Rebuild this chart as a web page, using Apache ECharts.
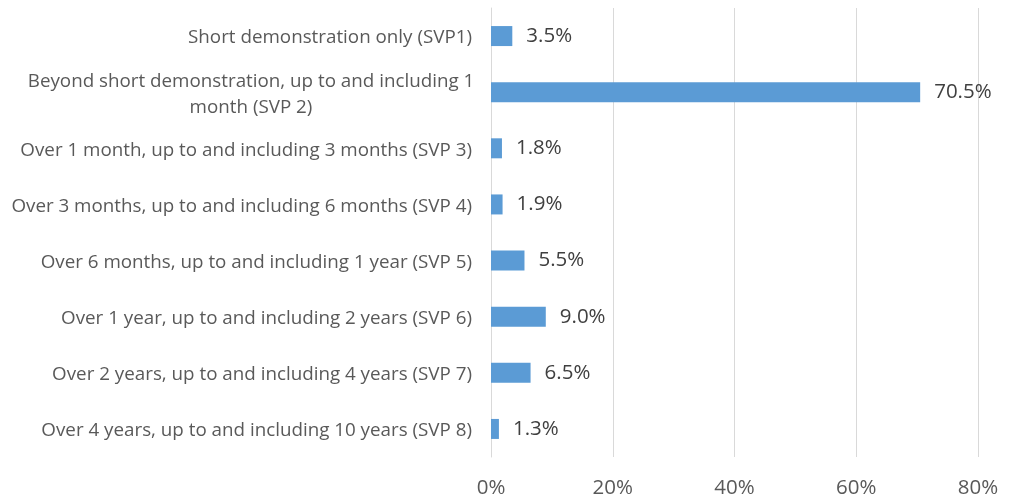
<!DOCTYPE html>
<html>
<head>
<meta charset="utf-8">
<script src="https://cdn.jsdelivr.net/npm/echarts@6/dist/echarts.min.js"></script>
<style>
  html, body { margin: 0; padding: 0; background: #fff; }
  #chart { width: 1015px; height: 499px; }
</style>
</head>
<body>
<div id="chart"></div>
<script>
// categories top to bottom, as in the picture
const categories = [
  'Short demonstration only (SVP1)',
  'Beyond short demonstration, up to and including 1\nmonth (SVP 2)',
  'Over 1 month, up to and including 3 months (SVP 3)',
  'Over 3 months, up to and including 6 months (SVP 4)',
  'Over 6 months, up to and including 1 year (SVP 5)',
  'Over 1 year, up to and including 2 years (SVP 6)',
  'Over 2 years, up to and including 4 years (SVP 7)',
  'Over 4 years, up to and including 10 years (SVP 8)'
]
const shares = [3.5, 70.5, 1.8, 1.9, 5.5, 9.0, 6.5, 1.3]
const xTicks = [0, 20, 40, 60, 80]

const font = '"Open Sans", "Noto Sans", sans-serif'

const chart = echarts.init(document.getElementById('chart'))

chart.setOption({
  animation: false,
  grid: { left: 491, right: 37, top: 8, bottom: 41, containLabel: false },
  xAxis: {
    type: 'value',
    min: xTicks[0],
    max: xTicks[xTicks.length - 1],
    interval: 20,
    axisLine: { show: false },
    axisTick: { show: false },
    splitLine: { lineStyle: { color: '#d9d9d9', width: 1 } },
    axisLabel: {
      margin: 21,
      color: '#595959',
      fontFamily: font,
      fontSize: 20.5,
      formatter: v => v + '%'
    }
  },
  yAxis: {
    type: 'category',
    inverse: true,
    data: categories,
    axisLine: { show: true, lineStyle: { color: '#d9d9d9' } },
    axisTick: { show: false },
    axisLabel: {
      margin: 19,
      padding: [4, 0, 0, 0],
      color: '#595959',
      fontFamily: font,
      fontSize: 18.8,
      lineHeight: 26,
      // the wrapped label is centred under its first line
      formatter: v => v.includes('\n') ? '{c|' + v + '}' : v,
      rich: {
        c: { width: 442, align: 'center', fontFamily: font, fontSize: 18.8, lineHeight: 26, color: '#595959' }
      }
    }
  },
  series: [{
    type: 'bar',
    data: shares,
    barWidth: 20,
    itemStyle: { color: '#5b9bd5' },
    label: {
      show: true,
      position: 'right',
      distance: 14,
      color: '#404040',
      fontFamily: font,
      fontSize: 20.5,
      formatter: p => p.value.toFixed(1) + '%'
    }
  }]
})
</script>
</body>
</html>
